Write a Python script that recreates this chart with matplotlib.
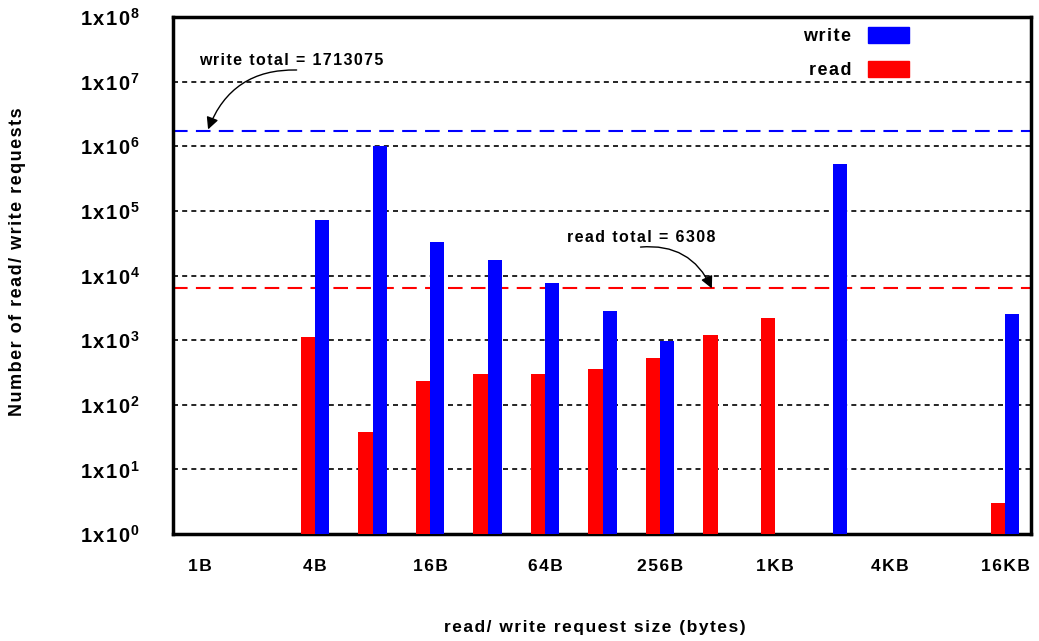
import numpy as np
import matplotlib
matplotlib.use("Agg")
import matplotlib.pyplot as plt
from matplotlib.patches import Patch

plt.rcParams['font.family'] = ['Liberation Sans', 'DejaVu Sans']
plt.rcParams['font.weight'] = 'bold'
plt.rcParams['mathtext.fontset'] = 'custom'
plt.rcParams['mathtext.bf'] = 'Liberation Sans:bold'
plt.rcParams['mathtext.rm'] = 'Liberation Sans:bold'

# -----------------------------
# DATA
# -----------------------------
sizes = ['1B', '2B', '4B', '8B', '16B', '32B', '64B', '128B',
         '256B', '512B', '1KB', '2KB', '4KB', '8KB', '16KB']
read_counts = [0, 0, 1100, 38, 232, 296, 296, 355, 525, 1190, 2180, 0, 0, 0, 3]
write_counts = [0, 0, 72000, 1020000, 33000, 17400, 7600, 2800, 965, 0, 0, 540000, 0, 0, 2500]
read_total = 6308
write_total = 1713075
decades = [0, 1, 2, 3, 4, 5, 6, 7, 8]


def spaced(s):
    # the original figure has loose letter spacing
    return '\u200a'.join(s)


# zero counts drawn as 1 so they sit on the log baseline
read_vals = [max(v, 1) for v in read_counts]
write_vals = [max(v, 1) for v in write_counts]

x = np.arange(len(sizes))
w = 0.25

fig = plt.figure(figsize=(10.39, 6.41), dpi=100)
ax = fig.add_axes([0.1665, 0.1669, 0.8258, 0.8066])

ax.set_yscale('log')
ax.set_ylim(1, 1e8)
ax.set_xlim(-0.47, len(sizes) - 0.55)

# grid at each decade (not top / bottom)
for k in decades[1:-1]:
    ax.axhline(10.0 ** k, color='black', lw=1.2, ls=(0, (3, 2.5)), zorder=1)

ax.bar(x - w / 2, read_vals, w, color='#ff0000', linewidth=0, zorder=3)
ax.bar(x + w / 2, write_vals, w, color='#0000ff', linewidth=0, zorder=3)

# totals
ax.axhline(write_total, color='#0000ff', lw=1.5, ls=(0, (7, 4)), zorder=2)
ax.axhline(read_total, color='#ff0000', lw=1.5, ls=(0, (7, 4)), zorder=2)

ax.text(1.58, 10 ** 7.33, spaced('write total = 1713075'), ha='center', va='center',
        fontsize=11.5, fontweight='bold')
ax.annotate('', xy=(0.14, 10 ** 6.26), xytext=(1.68, 10 ** 7.18),
            arrowprops=dict(arrowstyle='-|>', color='black', lw=1,
                            mutation_scale=18, shrinkA=0, shrinkB=0,
                            connectionstyle='arc3,rad=0.35'))

ax.text(7.67, 10 ** 4.59, spaced('read total = 6308'), ha='center', va='center',
        fontsize=11.5, fontweight='bold')
ax.annotate('', xy=(8.9, 10 ** 3.8), xytext=(7.66, 10 ** 4.44),
            arrowprops=dict(arrowstyle='-|>', color='black', lw=1,
                            mutation_scale=18, shrinkA=0, shrinkB=0,
                            connectionstyle='arc3,rad=-0.35'))

# axes
ax.set_yticks([10.0 ** k for k in decades])
ax.set_yticklabels([spaced('1x10') + r'$^{\mathbf{%d}}$' % k for k in decades],
                   fontsize=14.5, fontweight='bold')
ax.minorticks_off()
ax.set_xticks(x[::2])
ax.set_xticklabels([spaced(s) for s in sizes[::2]], fontsize=12.5, fontweight='bold')
ax.tick_params(axis='both', length=0)
ax.tick_params(axis='x', pad=18)
ax.tick_params(axis='y', pad=24)
for s in ax.spines.values():
    s.set_linewidth(2.5)

ax.set_ylabel(spaced('Number of read/ write requests'), fontsize=13, fontweight='bold')
ax.yaxis.set_label_coords(-0.171, 0.526)
ax.set_xlabel(spaced('read/ write request size (bytes)'), fontsize=12.5, fontweight='bold')
ax.xaxis.set_label_coords(0.492, -0.166)

handles = [Patch(color='#0000ff', label=spaced('write')),
           Patch(color='#ff0000', label=spaced('read'))]
ax.legend(handles=handles, loc='upper right', bbox_to_anchor=(0.877, 1.012),
          frameon=False, markerfirst=False,
          handlelength=2.3, handleheight=1.0, labelspacing=0.85, handletextpad=0.9,
          prop={'weight': 'bold', 'size': 13})

fig.savefig('out.png', dpi=100)
